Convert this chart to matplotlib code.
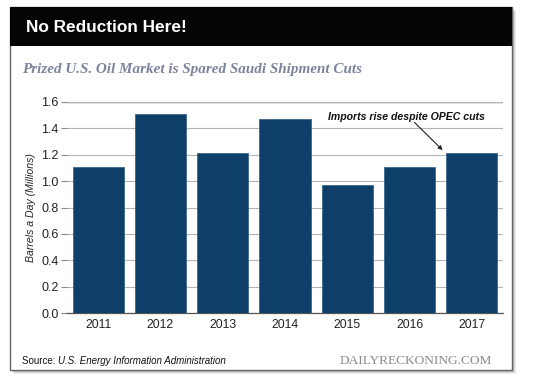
import matplotlib
matplotlib.use("Agg")
import matplotlib.pyplot as plt
from matplotlib.patches import Rectangle

# ── Dati ───────────────────────────────────────────────────────────────────────
years   = ["2011", "2012", "2013", "2014", "2015", "2016", "2017"]
imports = [1.11, 1.51, 1.21, 1.47, 0.97, 1.11, 1.21]
yticks  = [0.0, 0.2, 0.4, 0.6, 0.8, 1.0, 1.2, 1.4, 1.6]

TITLE    = "No Reduction Here!"
SUBTITLE = "Prized U.S. Oil Market is Spared Saudi Shipment Cuts"
NOTE     = "Imports rise despite OPEC cuts"
YLABEL   = "Barrels a Day (Millions)"

BAR_COLOR = "#0e3f69"
W, H = 540, 386

plt.rcParams["font.family"] = ["Liberation Sans", "DejaVu Sans"]

fig = plt.figure(figsize=(W / 100, H / 100), dpi=100)
fig.patch.set_facecolor("white")

def fx(px):
    return px / W

def fy(py):
    return 1 - py / H

# ── Cornice + ombra ───────────────────────────────────────────────────────────
for i, a in enumerate([0.10, 0.14, 0.20, 0.28]):
    off = 4 - i
    fig.patches.append(Rectangle((fx(10 + off), fy(370 + off)), fx(502), 363 / H,
                                 transform=fig.transFigure, facecolor="#555555",
                                 alpha=a, edgecolor="none", zorder=0))
fig.patches.append(Rectangle((fx(10), fy(370)), fx(502), 363 / H,
                             transform=fig.transFigure, facecolor="white",
                             edgecolor="#666666", linewidth=1.0, zorder=1))
fig.patches.append(Rectangle((fx(10), fy(46)), fx(502), 39 / H,
                             transform=fig.transFigure, facecolor="#050505",
                             edgecolor="none", zorder=2))

fig.text(fx(26), fy(27), TITLE, color="white", fontsize=12.4, fontweight="bold",
         va="center", ha="left", zorder=3)
fig.text(fx(22), fy(70), SUBTITLE, color="#7b849c", fontsize=10.9, fontweight="bold",
         fontstyle="italic", family=["Liberation Serif", "DejaVu Serif"],
         va="center", ha="left", zorder=3)

# ── Grafico ───────────────────────────────────────────────────────────────────
ax = fig.add_axes([fx(67), fy(313), (503 - 67) / W, (313 - 102) / H], zorder=4)
ax.set_facecolor("none")
x = range(len(years))
ax.bar(x, imports, width=0.82, color=BAR_COLOR, edgecolor="#2d5c86",
       linewidth=0.5, zorder=3)

ax.set_xlim(-0.5, len(years) - 0.5)
ax.set_ylim(0, 1.6)
ax.set_yticks(yticks)
ax.set_yticklabels([f"{v:.1f}" for v in yticks], fontsize=9, color="#222222")
ax.set_xticks(list(x))
ax.set_xticklabels(years, fontsize=8.8, color="#222222")
ax.tick_params(axis="y", length=4, width=0.8, color="#888888", pad=2)
ax.tick_params(axis="x", length=0, pad=4)
ax.grid(axis="y", color="#b5b5b5", linewidth=0.8, zorder=0)
ax.axhline(1.6, color="#777777", linewidth=1.0, zorder=1)
for s in ["top", "right", "left"]:
    ax.spines[s].set_visible(False)
ax.spines["bottom"].set_color("#555555")
ax.spines["bottom"].set_linewidth(0.9)
ax.set_ylabel(YLABEL, fontsize=7.6, fontstyle="italic", color="#222222", labelpad=4)

# annotazione sulla barra 2017
last = len(years) - 1
ax.text(last - 1.05, 1.49, NOTE, fontsize=7.6, fontweight="bold",
        fontstyle="italic", ha="center", va="center", color="#111111", zorder=5)
ax.annotate("", xy=(last - 0.47, imports[-1] + 0.025),
            xytext=(last - 0.92, 1.445),
            arrowprops=dict(arrowstyle="-|>", color="#222222", lw=0.8,
                            mutation_scale=6, shrinkA=0, shrinkB=0))

# ── Piede ─────────────────────────────────────────────────────────────────────
t = fig.text(fx(22), fy(361), "Source: ", fontsize=7, color="#111111",
             va="center", ha="left", zorder=3)
fig.canvas.draw()
bb = t.get_window_extent()
fig.text(bb.x1 / W, fy(361), "U.S. Energy Information Administration", fontsize=7,
         fontstyle="italic", color="#111111", va="center", ha="left", zorder=3)
fig.text(fx(492), fy(361), "DAILYRECKONING.COM", fontsize=9.6, color="#8a8a8a",
         family=["Liberation Serif", "DejaVu Serif"], va="center", ha="right", zorder=3)

fig.savefig("out.png", dpi=100)
